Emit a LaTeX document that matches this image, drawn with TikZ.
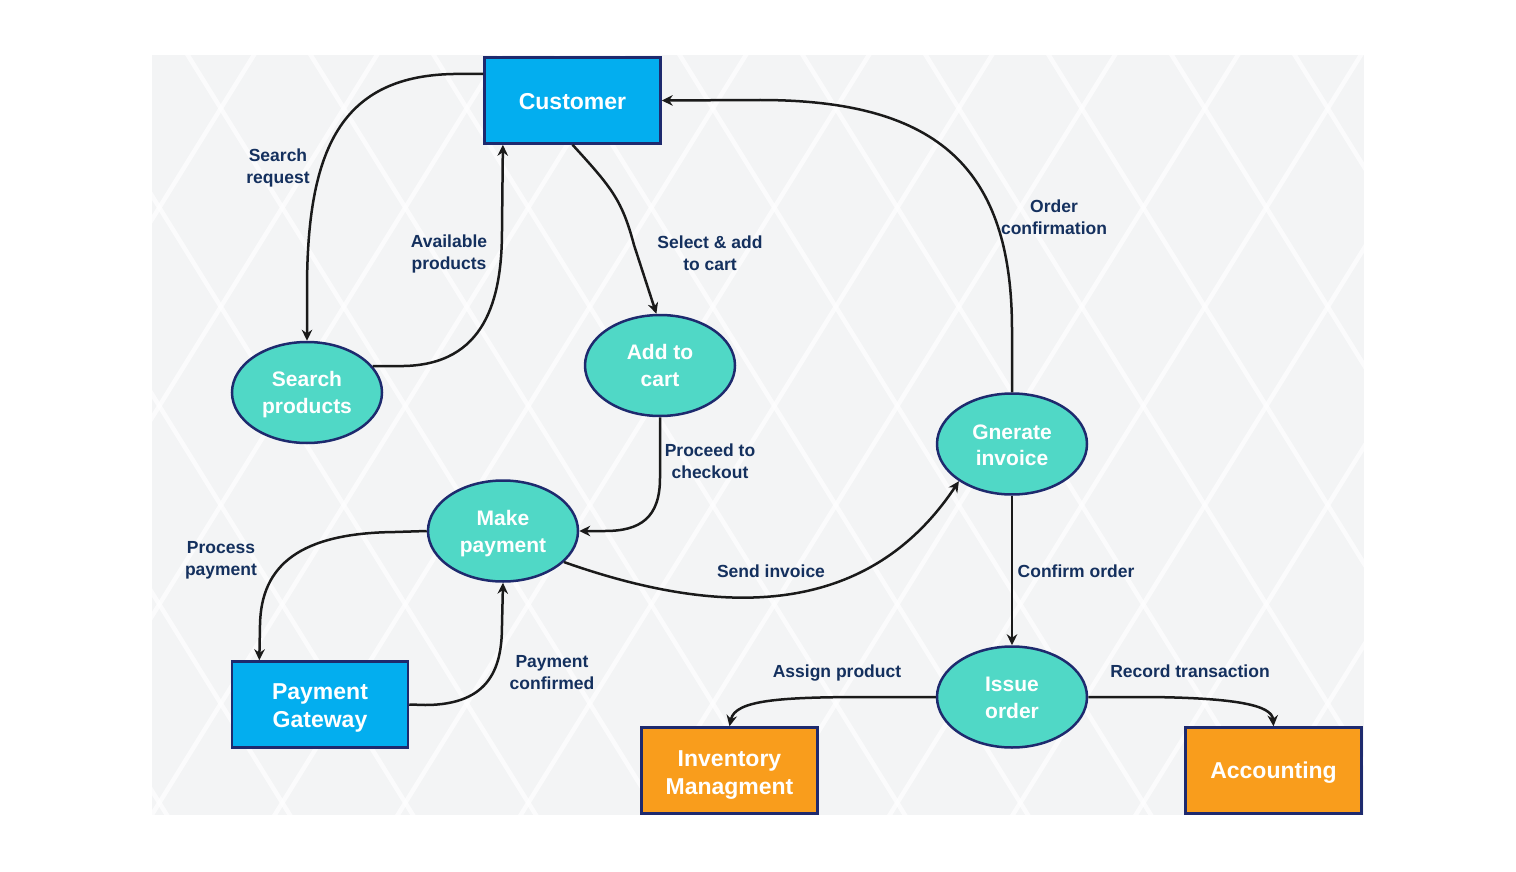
\documentclass[tikz,border=0pt]{standalone}
\usepackage{fontspec}
\setmainfont{Liberation Sans}
\usetikzlibrary{arrows.meta,calc,shapes.geometric}
\definecolor{navy}{HTML}{1E2A6E}
\definecolor{custblue}{HTML}{03AEEF}
\definecolor{turq}{HTML}{50D8C6}
\definecolor{orng}{HTML}{F99D1C}
\definecolor{labc}{HTML}{14305E}
\definecolor{linec}{HTML}{1A1A1A}
\definecolor{bgc}{HTML}{F3F4F5}
\tikzset{
  entity/.style={draw=navy, line width=2.5pt, rectangle, minimum width=176pt, minimum height=86pt, inner sep=0pt},
  etext/.style={text=white, align=center, inner sep=0pt, font=\bfseries\fontsize{23}{28}\selectfont},
  proc/.style={draw=navy, line width=2.5pt, ellipse, fill=turq, minimum width=150pt, minimum height=101pt, inner sep=0pt},
  ptext/.style={text=white, align=center, inner sep=0pt, font=\bfseries\fontsize{21}{26.5}\selectfont},
  lab/.style={text=labc, align=center, font=\bfseries\fontsize{17.5}{22}\selectfont, inner sep=1pt},
  flow/.style={draw=linec, line width=2.5pt, -{Stealth[length=11pt,width=10.5pt]}}
}
\begin{document}
\begin{tikzpicture}[x=1pt,y=-1pt]
\useasboundingbox (0,0) rectangle (1516,872);
% background
\fill[bgc] (152,55) rectangle (1364,815);
\begin{scope}
\clip (152,55) rectangle (1364,815);
\foreach \i in {-16,...,16}{
  \draw[white, line width=4.5pt, opacity=0.7] ({1137.6+123*\i},0) -- ({1137.6+123*\i+0.62*900},900);
  \draw[white, line width=4.5pt, opacity=0.7] ({1272+123*\i},0) -- ({1272+123*\i-0.62*900},900);
}
\end{scope}
% nodes
\node[entity, fill=custblue, label={[etext,yshift=-1pt]center:Customer}] (cust) at (572.5,100.5) {};
\node[entity, fill=custblue, label={[etext,yshift=-3.5pt]center:{Payment\\Gateway}}] (pg) at (320,704.5) {};
\node[entity, fill=orng, label={[etext,yshift=-4.5pt]center:{Inventory\\Managment}}] (inv) at (729.5,770.5) {};
\node[entity, fill=orng, label={[etext,yshift=-2.5pt]center:Accounting}] (acc) at (1273.5,770.5) {};
\node[proc, label={[ptext,yshift=-2pt]center:{Search\\products}}] (sp) at (307,392.5) {};
\node[proc, label={[ptext]center:{Add to\\cart}}] (atc) at (660,365.5) {};
\node[proc, label={[ptext,yshift=-1.5pt]center:{Gnerate\\invoice}}] (gi) at (1012,444) {};
\node[proc, label={[ptext,yshift=-2.5pt]center:{Make\\payment}}] (mp) at (503,531) {};
\node[proc, label={[ptext,yshift=-1pt]center:{Issue\\order}}] (io) at (1012,697) {};
% connectors
\coordinate (c1) at ($(cust.north west)!0.2!(cust.south west)$);
\draw[flow] (c1) -- ++(-25,0) .. controls (340,74) and (307,150) .. (307,290) -- (sp.north);
\coordinate (c2) at ($(cust.south west)!0.11!(cust.south east)$);
\draw[flow] (sp.22) -- ++(30,0) .. controls (485,365) and (502,300) .. (502,230) -- (c2);
\draw[flow] (cust.south) .. controls (612,188) and (622,200) .. (634,245) -- (atc.94);
\draw[flow] (gi.north) -- (1012,330) .. controls (1012,170) and (940,100) .. (760,100) -- (cust.east);
\draw[flow] (atc.south) -- (660,478) .. controls (660,518) and (640,531) .. (605,531) -- (mp.east);
\coordinate (c3) at ($(pg.north west)!0.16!(pg.north east)$);
\draw[flow] (mp.west) -- (395,532) .. controls (300,533) and (261,565) .. (260,625) -- (c3);
\draw[flow] (pg.east) -- (425,705) .. controls (492,705) and (502,665) .. (502,625) -- (mp.south);
\draw[flow] (mp.333) .. controls (700,610) and (860,630) .. (gi.215);
\draw[flow] (gi.south) -- (io.north);
\draw[flow] (io.west) -- (870,697) .. controls (780,697) and (735,700) .. (inv.north);
\draw[flow] (io.east) -- (1150,697) .. controls (1235,698) and (1272,705) .. (acc.north);
% labels
\node[lab] (l1) at (278,168) {Search\\request};
\node[lab] (l2) at (449,254) {Available\\products};
\node[lab] (l3) at (710,253) {Select \& add\\to cart};
\node[lab] (l4) at (1054,217) {Order\\confirmation};
\node[lab] (l5) at (710,461) {Proceed to\\checkout};
\node[lab] (l6) at (221,560) {Process\\payment};
\node[lab] (l7) at (771,571) {Send invoice};
\node[lab] (l8) at (1076,571) {Confirm order};
\node[lab] (l9) at (552,673) {Payment\\confirmed};
\node[lab] (l10) at (837,673) {Assign product};
\node[lab] (l11) at (1190,671) {Record transaction};
\end{tikzpicture}
\end{document}
